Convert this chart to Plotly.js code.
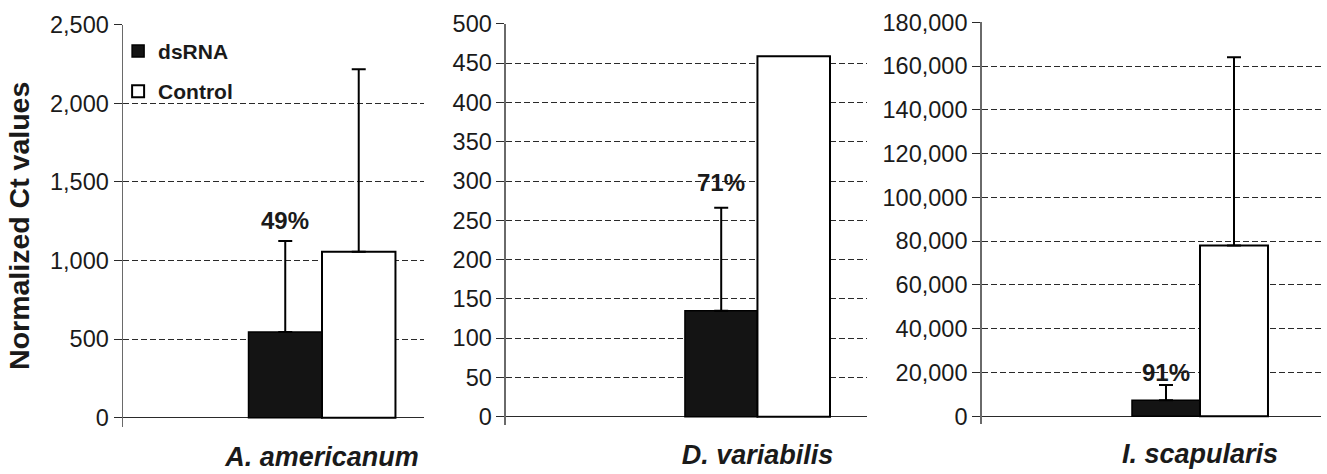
<!DOCTYPE html>
<html>
<head>
<meta charset="utf-8">
<script src="https://cdn.plot.ly/plotly-3.0.1.min.js"></script>
<style>html,body{margin:0;padding:0;background:#fff;}#chart{width:1327px;height:474px;}</style>
</head>
<body>
<div id="chart"></div>
<script>
// ---- data ----
const species = ["A. americanum", "D. variabilis", "I. scapularis"];
const dsRNA = [545, 135, 7300];
const dsRNAErr = [579, 131, 7000];
const control = [1056, 459, 78000];
const controlErr = [1160, null, 86000];
const knockdown = ["49%", "71%", "91%"];
const yMax = [2500, 500, 180000];
const yStep = [500, 50, 20000];

// ---- layout / style ----
const FONT = "Liberation Sans, Arial, Helvetica, sans-serif";
const xDomains = [[0.0927, 0.3195], [0.3813, 0.6531], [0.7398, 0.9955]];
const yDomains = [[0.0992, 0.9479], [0.1034, 0.9494], [0.1055, 0.9530]];
const yMinFrac = [0.0236, 0.0212, 0.0194];
const xRanges = [[-1.354, 0.694], [-1.734, 0.753], [-1.605, 0.890]];
const labelShift = [21, 25, 13];

const traces = [];
const layout = {
  width: 1327, height: 474,
  margin: {l: 0, r: 0, t: 0, b: 0},
  paper_bgcolor: "#fff", plot_bgcolor: "rgba(0,0,0,0)",
  font: {family: FONT, color: "#1a1a1a"},
  barmode: "group", bargap: 0, bargroupgap: 0,
  showlegend: true,
  legend: {x: 0.089, y: 0.935, xanchor: "left", yanchor: "top",
           bgcolor: "rgba(0,0,0,0)", font: {family: FONT, size: 21, weight: "bold", color: "#1a1a1a"},
           traceorder: "grouped", tracegroupgap: 10, itemwidth: 30},
  annotations: []
};

for (let i = 0; i < 3; i++) {
  const s = i === 0 ? "" : String(i + 1);
  const xa = "x" + s, ya = "y" + s;
  traces.push({
    type: "bar", name: "dsRNA", x: [species[i]], y: [dsRNA[i]],
    xaxis: xa, yaxis: ya, legendgroup: "ds", showlegend: i === 0,
    marker: {color: "#141414", line: {color: "#000", width: 1.5}},
    error_y: {type: "data", symmetric: false, array: [dsRNAErr[i]], arrayminus: [0],
              color: "#000", thickness: 2, width: 7},
    hoverinfo: "y"
  });
  traces.push({
    type: "bar", name: "Control", x: [species[i]], y: [control[i]],
    xaxis: xa, yaxis: ya, legendgroup: "ctl", showlegend: i === 0,
    marker: {color: "#fff", line: {color: "#000", width: 2}},
    error_y: {type: "data", symmetric: false,
              array: [controlErr[i] === null ? NaN : controlErr[i]], arrayminus: [0],
              visible: controlErr[i] !== null,
              color: "#000", thickness: 2, width: 7},
    hoverinfo: "y"
  });
  layout["xaxis" + s] = {
    domain: xDomains[i], anchor: ya, type: "category", range: xRanges[i],
    showgrid: false, zeroline: false, showline: false, ticks: "",
    tickfont: {family: FONT, size: 27, weight: "bold", style: "italic", color: "#1a1a1a"},
    ticklabelstandoff: 11, fixedrange: true
  };
  layout["yaxis" + s] = {
    domain: yDomains[i], anchor: xa,
    range: [-yMax[i] * yMinFrac[i], yMax[i]],
    tick0: 0, dtick: yStep[i], tickformat: ",",
    showgrid: true, gridcolor: "#2a2a2a", gridwidth: 1, griddash: "6px,3px",
    zeroline: true, zerolinecolor: "#2a2a2a", zerolinewidth: 1.3,
    showline: true, linecolor: "#6a6a6a", linewidth: 1.5,
    ticks: "outside", ticklen: 8, tickwidth: 1, tickcolor: "#2a2a2a",
    tickfont: {family: FONT, size: 23.5, color: "#1a1a1a"},
    fixedrange: true
  };
  layout.annotations.push({
    xref: xa, yref: ya, x: -0.25, y: dsRNA[i] + dsRNAErr[i],
    text: knockdown[i], showarrow: false, yanchor: "middle", yshift: labelShift[i],
    font: {family: FONT, size: 24, weight: "bold", color: "#1a1a1a"}
  });
}
layout.yaxis.title = {text: "Normalized Ct values", standoff: 12,
  font: {family: FONT, size: 28.5, weight: "bold", color: "#1a1a1a"}};

Plotly.newPlot("chart", traces, layout, {displayModeBar: false, staticPlot: true});
</script>
</body>
</html>
